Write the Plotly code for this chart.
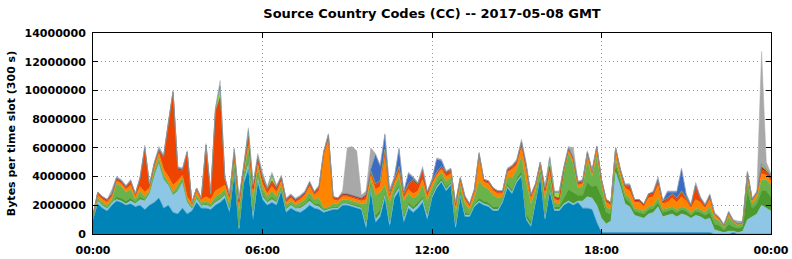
import plotly.graph_objects as go

# 10-minute samples, 00:00 .. 24:00 (values in units of 100 000 bytes)
slots = [i * 10 / 60 for i in range(145)]

cc_a = [10,21,18,16,20,23,22,20,21,19,20,17,20,22,25,18,20,15,14,18,14,16,22,18,18,17,20,22,25,15,42,3,35,45,10,36,
        24,20,22,20,30,15,18,16,15,17,20,18,17,15,16,17,17,20,20,19,18,17,4,30,8,12,25,5,25,30,8,18,15,18,22,10,
        25,32,36,30,34,4,26,12,12,19,22,20,19,16,16,22,32,28,36,40,10,5,22,40,10,30,16,16,20,22,20,22,18,18,17,8,
        1,1,1,1,1,1,1,1,1,1,1,1,1,1,1,1,1,1,1,1,1,1,1,1,0,0,0,0,1,0,0,0,0,0,0,0,0]
cc_b = [1,2,2,2,2,1,1,1,2,2,4,6,8,18,25,20,14,12,16,18,8,2,3,2,2,2,2,2,2,2,2,1,2,4,3,3,
        2,2,2,2,1,2,2,2,3,3,3,2,2,1,1,1,1,1,1,1,1,1,2,2,2,2,2,2,2,2,2,2,2,2,2,2,
        1,1,1,1,1,1,1,1,1,1,1,1,1,1,1,1,1,1,1,1,1,1,1,1,1,1,1,1,1,1,1,1,5,8,8,12,
        10,6,8,42,32,20,18,12,11,10,13,14,18,11,12,13,11,13,12,10,12,11,9,10,3,2,1,2,1,1,2,10,12,14,20,18,16]
cc_c = [0,1,0,0,0,2,2,2,2,1,2,1,1,2,0,1,1,1,1,1,1,0,0,0,1,0,1,1,1,1,2,2,2,3,3,2,
        2,1,2,1,1,1,1,0,1,1,2,1,2,1,1,1,1,1,1,1,1,1,3,2,3,3,2,3,2,2,3,2,2,2,2,3,
        2,2,2,2,1,3,2,2,1,1,2,2,2,2,2,1,2,2,2,3,3,3,2,2,3,2,2,2,4,8,8,4,4,10,8,14,
        15,8,5,6,4,4,3,3,3,3,3,3,3,3,3,3,3,3,3,2,3,3,3,4,4,4,2,5,3,3,3,20,6,7,10,12,10]
cc_d = [1,1,2,2,2,9,8,6,6,2,4,2,1,2,3,2,1,1,3,2,1,1,2,2,2,2,3,3,3,3,5,10,3,8,8,5,
        4,3,4,3,2,2,2,2,3,3,4,3,4,1,1,2,2,2,2,2,2,2,12,4,14,12,5,12,4,6,10,6,6,5,8,8,
        4,4,4,4,3,7,4,6,3,4,12,10,9,8,6,2,4,8,6,10,22,12,5,3,10,8,3,2,18,25,20,5,6,15,7,20,
        8,4,3,3,3,3,3,2,2,2,2,2,3,2,2,2,2,2,2,2,2,2,2,4,4,3,2,5,3,2,2,8,3,4,8,8,8]
cc_e = [1,2,2,2,2,2,2,2,3,2,3,3,2,3,3,4,4,5,3,2,2,2,3,2,3,3,4,4,3,3,3,3,2,4,4,3,
        3,2,3,3,3,2,2,2,2,3,4,3,5,37,47,3,2,2,2,2,2,2,3,3,4,4,20,3,2,3,2,3,3,3,4,3,
        3,2,2,3,3,3,4,3,2,4,17,3,4,3,3,2,4,6,3,6,8,4,3,2,4,3,2,2,1,2,2,2,2,4,2,5,
        2,3,3,5,3,4,5,4,5,3,6,6,9,4,4,6,5,7,5,3,6,5,3,5,2,1,1,2,1,1,1,3,2,3,4,3,3]
cc_f = [0,1,1,1,1,1,1,1,2,1,5,30,1,1,2,8,36,64,8,3,30,0,1,0,35,3,54,62,4,2,2,3,1,2,3,3,
        3,2,3,2,2,1,1,1,1,1,2,1,2,1,1,1,1,1,1,1,1,1,2,2,3,3,3,2,2,3,2,3,9,4,5,2,
        1,1,1,2,2,2,1,1,1,1,1,1,1,1,1,1,1,1,2,3,3,1,1,1,2,2,1,1,1,1,1,1,1,1,1,1,
        1,1,1,2,1,1,3,1,1,1,2,2,3,1,2,2,2,3,1,1,9,2,1,2,1,1,0,1,0,0,0,1,1,1,3,2,2]
cc_g = [0,1,1,1,1,1,1,1,1,1,1,1,1,1,1,1,1,1,1,1,1,1,1,1,1,1,1,1,1,1,1,1,1,2,1,1,
        1,1,1,1,1,1,1,1,1,1,1,1,1,1,2,1,1,1,1,1,1,1,1,1,1,1,2,1,1,1,1,1,1,1,1,1,
        1,1,1,1,1,1,1,1,1,1,1,1,1,1,1,1,1,1,1,1,1,1,1,1,1,1,1,1,1,1,1,1,1,1,1,1,
        1,1,1,1,1,1,1,1,1,1,1,1,1,1,1,1,1,1,1,1,1,1,1,1,0,0,0,0,0,0,0,1,0,0,2,1,1]
cc_h = [0,0,0,0,0,0,0,0,0,0,0,0,0,0,0,0,0,0,0,0,0,0,0,0,0,0,2,8,0,0,2,1,1,4,2,1,
        2,1,4,1,0,0,0,0,0,0,0,0,0,0,0,0,0,0,0,0,0,0,1,0,0,0,0,0,0,0,0,0,0,0,1,0,
        0,0,0,0,0,0,0,0,0,0,0,0,0,0,0,0,0,0,0,0,0,0,0,0,1,6,3,4,0,0,0,0,0,0,0,0,
        0,0,0,0,0,0,0,0,0,0,0,0,0,0,0,0,0,0,0,0,0,0,0,0,0,0,0,0,0,0,0,0,0,0,2,1,1]
cc_i = [0,0,0,0,0,0,0,0,0,0,0,0,0,0,0,0,0,0,0,0,0,0,0,0,0,0,0,0,0,0,0,0,0,0,0,0,
        0,0,0,0,0,0,0,0,0,0,0,0,0,0,0,0,0,0,0,0,0,0,0,1,20,10,10,2,1,12,1,7,1,0,0,0,
        1,9,4,0,0,0,0,0,0,0,0,0,0,0,0,0,0,0,0,0,0,0,0,0,0,0,0,0,0,0,0,0,0,0,0,0,
        0,0,0,0,0,0,0,0,0,0,0,0,0,0,4,1,4,15,2,0,0,0,0,0,0,0,0,0,0,0,0,0,0,0,0,0,0]
cc_j = [0,0,0,0,3,1,1,1,1,0,1,2,1,1,2,1,1,1,1,1,1,0,0,0,1,0,1,4,1,1,1,1,1,2,1,2,
        2,1,2,1,1,1,1,1,1,1,1,1,1,1,1,0,0,2,32,34,32,2,2,15,1,1,1,1,1,1,1,1,1,1,2,1,
        0,1,1,1,1,1,1,1,0,0,1,0,0,0,0,0,1,1,1,2,2,1,0,0,1,1,1,1,1,1,7,1,1,1,0,0,
        0,0,0,0,0,1,1,0,0,0,0,1,2,0,1,1,1,1,1,1,2,1,1,1,1,1,1,1,1,2,1,1,1,1,78,5,1]

series = [
    ("A", cc_a, "#0083b6"),
    ("B", cc_b, "#8ec6e6"),
    ("C", cc_c, "#4c9a2e"),
    ("D", cc_d, "#6bb24a"),
    ("E", cc_e, "#ff8400"),
    ("F", cc_f, "#ee4400"),
    ("G", cc_g, "#b02020"),
    ("H", cc_h, "#9ada3a"),
    ("I", cc_i, "#3a6cc4"),
    ("J", cc_j, "#a8a8a8"),
]

UNIT = 100000

fig = go.Figure()
for name, vals, col in series:
    fig.add_trace(go.Scatter(
        x=slots, y=[v * UNIT for v in vals], name=name,
        mode="lines", stackgroup="one",
        line=dict(width=0.5, color=col), fillcolor=col,
        hoverinfo="skip", showlegend=False,
    ))

fig.update_layout(
    width=792, height=259,
    margin=dict(l=93, r=21, t=33, b=25, autoexpand=False),
    paper_bgcolor="white", plot_bgcolor="white",
    font=dict(family="DejaVu Sans", size=11, color="black", weight="bold"),
    title=dict(text="Source Country Codes (CC) -- 2017-05-08 GMT",
               x=432 / 792, xanchor="center", y=1 - 13 / 259, yanchor="middle",
               font=dict(family="DejaVu Sans", size=13, color="black", weight="bold")),
    showlegend=False,
)
fig.update_xaxes(
    range=[0, 24], tickvals=[0, 6, 12, 18, 24],
    ticktext=["00:00", "06:00", "12:00", "18:00", "00:00"],
    showline=True, linecolor="black", linewidth=1, mirror="ticks",
    ticks="inside", ticklen=5, tickcolor="black", ticklabelstandoff=6,
    showgrid=True, gridcolor="#9a9a9a", griddash="1px,3px", gridwidth=1,
    zeroline=False,
)
fig.update_yaxes(
    range=[0, 14000000], tickvals=list(range(0, 14000001, 2000000)), tickformat="d",
    showline=True, linecolor="black", linewidth=1, mirror="ticks",
    ticks="inside", ticklen=5, tickcolor="black", ticklabelstandoff=4,
    showgrid=True, gridcolor="#9a9a9a", griddash="1px,3px", gridwidth=1,
    zeroline=False,
    title=dict(text="Bytes per time slot (300 s)", standoff=6,
               font=dict(family="DejaVu Sans", size=11, color="black", weight="bold")),
)

fig.write_html("out.html")
